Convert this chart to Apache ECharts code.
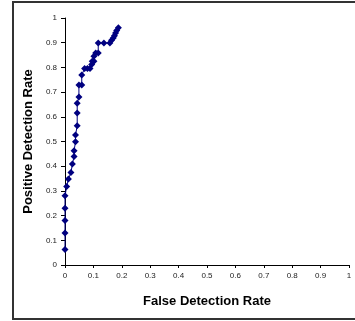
<!DOCTYPE html>
<html><head><meta charset="utf-8">
<script src="https://cdn.jsdelivr.net/npm/echarts@6/dist/echarts.min.js"></script>
<style>html,body{margin:0;padding:0;background:#fff}#c{width:355px;height:321px}</style>
</head><body><div id="c"></div>
<script>
var falseRate = [0,0,0,0,0,0.006,0.012,0.021,0.026,0.032,0.032,0.037,0.037,0.043,0.043,0.043,0.049,0.049,0.059,0.059,0.069,0.079,0.088,0.094,0.096,0.102,0.102,0.108,0.117,0.117,0.137,0.158,0.164,0.170,0.174,0.178,0.182,0.188];
var posRate   = [0.063,0.13,0.18,0.23,0.28,0.318,0.348,0.374,0.409,0.439,0.463,0.499,0.526,0.564,0.615,0.655,0.68,0.729,0.729,0.769,0.796,0.796,0.796,0.812,0.825,0.825,0.845,0.858,0.858,0.899,0.899,0.899,0.91,0.919,0.928,0.939,0.949,0.961];
var xTitle = 'False Detection Rate';
var yTitle = 'Positive Detection Rate';
var pts = falseRate.map(function(x,i){return [x,posRate[i]];});
var chart = echarts.init(document.getElementById('c'));
var lbl = {fontFamily:'Liberation Sans, Arial', fontSize:8, color:'#222'};
var ttl = {fontFamily:'Liberation Sans, Arial',fontSize:13,fontWeight:'bold',color:'#000'};
chart.setOption({
  animation:false,
  graphic:[{type:'polyline',shape:{points:[[420,2],[13,2],[13,319],[420,319]]},style:{fill:null,stroke:'#333',lineWidth:2}}],
  grid:{left:65,right:6,top:18,bottom:56},
  xAxis:{type:'value',min:0,max:1,interval:0.1,
    name:xTitle,nameLocation:'middle',nameGap:30,nameTextStyle:ttl,
    axisLine:{lineStyle:{color:'#000',width:1}},axisTick:{show:true,length:3,lineStyle:{color:'#000'}},
    axisLabel:Object.assign({margin:7},lbl),splitLine:{show:false}},
  yAxis:{type:'value',min:0,max:1,interval:0.1,
    name:yTitle,nameLocation:'middle',nameGap:22,nameTextStyle:ttl,
    axisLine:{show:true,lineStyle:{color:'#000',width:1}},axisTick:{show:true,length:4,lineStyle:{color:'#000'}},
    axisLabel:Object.assign({margin:8},lbl),splitLine:{show:false}},
  series:[{type:'line',data:pts,symbol:'diamond',symbolSize:7,
    lineStyle:{color:'#000080',width:1},itemStyle:{color:'#000080'}}]
});
</script></body></html>
